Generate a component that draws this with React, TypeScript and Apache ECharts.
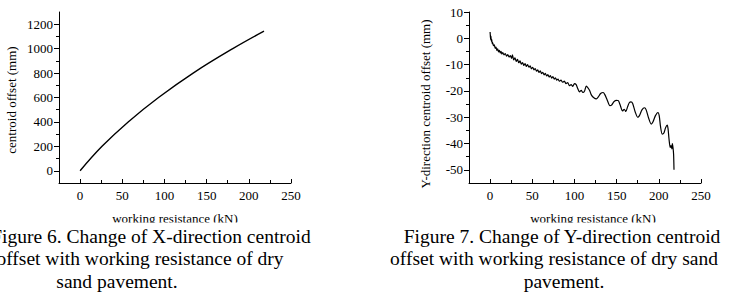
import React, { useEffect, useRef } from "react";
import * as echarts from "echarts";

const FONT = "Liberation Serif";

// Figure 6: X-direction centroid offset (mm) vs working resistance (kN)
const xOffsetForce = [0, 26, 57, 93, 134, 181, 218];
const xOffsetMm = [0, 200, 400, 600, 800, 1000, 1143];

// Figure 7: Y-direction centroid offset (mm) vs working resistance (kN)
const yOffsetForce = [
  0, 0.3, 0.6, 1, 1.5, 2, 2.5, 3, 4, 5, 6, 7, 8, 9, 10, 11, 12, 13, 14, 15,
  16.5, 18, 19.5, 21, 22.5, 24, 25.5, 26.5, 28, 29.5, 31, 32.5, 34, 35.5, 37,
  38.5, 40, 41.5, 43, 44.5, 46, 47.5, 49, 50.5, 52, 53.5, 55, 56.5, 58, 59.5,
  61, 62.5, 64, 65.5, 67, 68.5, 70, 71.5, 73, 74.5, 76, 77.5, 79, 80.5, 82, 84,
  86, 88, 90, 92, 94, 96, 98, 100, 102, 104, 106, 108, 110, 112, 114, 116, 118,
  120, 123, 126, 128, 131, 134, 136, 139, 142, 144, 147, 150, 152, 154, 157,
  159, 161, 163, 165, 167, 169, 172, 175, 177, 180, 183, 185, 188, 191, 193,
  196, 199, 200.5, 202, 204, 206, 208, 210, 211, 212, 213.5, 214.5, 215.5, 216,
  216.8, 217.5, 218,
];
const yOffsetMm = [
  2.4, 1.0, -0.5, 0.8, -1.2, -0.5, -2.0, -1.6, -2.8, -2.5, -3.8, -3.3, -4.6,
  -4.0, -5.2, -4.6, -5.6, -5.0, -6.0, -5.4, -6.3, -5.8, -6.8, -6.2, -7.1, -6.6,
  -7.6, -6.3, -8.2, -7.4, -8.8, -8.0, -9.3, -8.6, -9.8, -9.2, -10.3, -9.6,
  -10.7, -10.0, -11.0, -10.5, -11.6, -11.0, -12.0, -11.5, -12.5, -12.0, -13.0,
  -12.4, -13.4, -12.9, -13.9, -13.3, -14.3, -13.8, -14.7, -14.2, -15.1, -14.6,
  -15.5, -15.0, -15.9, -15.5, -16.3, -15.9, -16.7, -16.3, -17.2, -16.8, -18.0,
  -17.6, -18.3, -17.2, -17.6, -19.2, -20.4, -19.8, -20.6, -20.0, -18.2, -18.8,
  -19.8, -21.5, -22.6, -23.0, -22.4, -21.0, -20.6, -21.4, -23.6, -25.6, -25.4,
  -24.0, -23.6, -23.7, -25.2, -27.6, -27.0, -27.8, -26.0, -24.5, -24.2, -24.8,
  -28.0, -30.0, -29.4, -27.2, -26.4, -27.2, -30.4, -32.6, -31.8, -29.4, -28.2,
  -29.5, -33.5, -36.4, -36.0, -34.0, -33.0, -34.5, -38.0, -41.5, -40.8, -42.0,
  -40.0, -41.5, -44.0, -50.0,
];

const forceTicks = [0, 50, 100, 150, 200, 250];
const forceMinorTicks = [25, 75, 125, 175, 225];
const xOffsetTicks = [0, 200, 400, 600, 800, 1000, 1200];
const xOffsetMinorTicks = [100, 300, 500, 700, 900, 1100];
const yOffsetTicks = [10, 0, -10, -20, -30, -40, -50];
const yOffsetMinorTicks = [5, -5, -15, -25, -35, -45];

const forceName = "working resistance (kN)";
const xOffsetName = "centroid offset (mm)";
const yOffsetName = "Y-direction centroid offset (mm)";
const caption6 = [
  "Figure 6. Change of X-direction centroid",
  "offset with working resistance of dry",
  "sand pavement.",
];
const caption7 = [
  "Figure 7. Change of Y-direction centroid",
  "offset with working resistance of dry sand",
  "pavement.",
];

const black = "#000";

function mainAxis(
  dir: "x" | "y",
  gridIndex: number,
  min: number,
  max: number,
  ticks: number[]
) {
  return {
    type: "value",
    gridIndex,
    position: dir === "x" ? "bottom" : "left",
    min,
    max,
    axisLine: { show: true, onZero: false, lineStyle: { color: black, width: 1 } },
    axisTick: {
      show: true,
      inside: dir === "x",
      length: dir === "x" ? 4 : 5,
      customValues: ticks,
      lineStyle: { color: black, width: 1 },
    },
    axisLabel: {
      customValues: ticks,
      formatter: (v: number) => String(v),
      color: black,
      fontFamily: FONT,
      fontSize: 13,
      margin: 6,
    },
    splitLine: { show: false },
  };
}

function minorAxis(
  dir: "x" | "y",
  gridIndex: number,
  min: number,
  max: number,
  ticks: number[]
) {
  return {
    type: "value",
    gridIndex,
    position: dir === "x" ? "bottom" : "left",
    offset: 0,
    min,
    max,
    axisLine: { show: false, onZero: false },
    axisTick: {
      show: true,
      inside: dir === "x",
      length: 3,
      customValues: ticks,
      lineStyle: { color: black, width: 1 },
    },
    axisLabel: { show: false },
    splitLine: { show: false },
  };
}

function textEl(
  text: string,
  x: number,
  y: number,
  size: number,
  rotation = 0
) {
  return {
    type: "text",
    x,
    y,
    rotation,
    style: {
      text,
      fill: black,
      fontFamily: FONT,
      fontSize: size,
      textAlign: "center",
      textVerticalAlign: "middle",
    },
    z: 10,
  };
}

const option = {
  animation: false,
  backgroundColor: "#fff",
  grid: [
    { left: 59, top: 12, width: 232, height: 171 },
    { left: 469, top: 12, width: 232, height: 171 },
  ],
  xAxis: [
    mainAxis("x", 0, -25, 250, forceTicks),
    minorAxis("x", 0, -25, 250, forceMinorTicks),
    mainAxis("x", 1, -25, 250, forceTicks),
    minorAxis("x", 1, -25, 250, forceMinorTicks),
  ],
  yAxis: [
    mainAxis("y", 0, -100, 1300, xOffsetTicks),
    minorAxis("y", 0, -100, 1300, xOffsetMinorTicks),
    mainAxis("y", 1, -55, 10, yOffsetTicks),
    minorAxis("y", 1, -55, 10, yOffsetMinorTicks),
  ],
  series: [
    {
      type: "line",
      xAxisIndex: 0,
      yAxisIndex: 0,
      data: xOffsetForce.map((f, i) => [f, xOffsetMm[i]]),
      smooth: 0.4,
      showSymbol: false,
      lineStyle: { color: black, width: 1.4 },
    },
    {
      type: "line",
      xAxisIndex: 2,
      yAxisIndex: 2,
      data: yOffsetForce.map((f, i) => [f, yOffsetMm[i]]),
      smooth: 0.25,
      showSymbol: false,
      lineStyle: { color: black, width: 1.2 },
    },
  ],
  graphic: [
    textEl(xOffsetName, 11, 100, 13, Math.PI / 2),
    textEl(yOffsetName, 425, 104, 13, Math.PI / 2),
    textEl(forceName, 175, 218, 13),
    textEl(forceName, 593, 218, 13),
    {
      type: "rect",
      shape: { x: 0, y: 222.5, width: 734, height: 6 },
      style: { fill: "#fff" },
      z: 11,
    },
    textEl(caption6[0], 151, 236, 19.5),
    textEl(caption6[1], 140, 258, 19.5),
    textEl(caption6[2], 117, 281, 19.5),
    textEl(caption7[0], 562, 236, 19.5),
    textEl(caption7[1], 554, 258, 19.5),
    textEl(caption7[2], 564, 281, 19.5),
  ],
};

export default function App() {
  const ref = useRef<HTMLDivElement>(null);
  useEffect(() => {
    const chart = echarts.init(ref.current!, null, { renderer: "svg" });
    chart.setOption(option as any);
    return () => chart.dispose();
  }, []);
  return (
    <div
      ref={ref}
      style={{
        position: "fixed",
        left: 0,
        top: 0,
        width: 734,
        height: 304,
        background: "#fff",
      }}
    />
  );
}
